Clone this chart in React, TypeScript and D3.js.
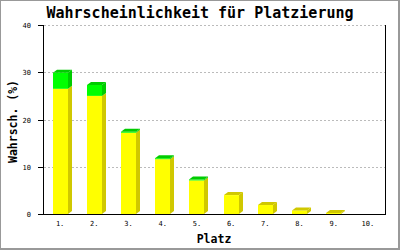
import React from "react";
import * as d3 from "d3";

const categories = ["1.", "2.", "3.", "4.", "5.", "6.", "7.", "8.", "9.", "10."];
const yellowValues = [26.5, 25.0, 17.2, 11.6, 7.1, 4.0, 1.9, 0.75, 0.2, 0];
const greenValues = [3.4, 2.3, 0.2, 0.2, 0.2, 0, 0, 0, 0, 0];
const yTicks = [0, 10, 20, 30, 40];
const title = "Wahrscheinlichkeit für Platzierung";
const xTitle = "Platz";
const yTitle = "Wahrsch. (%)";

const W = 400, H = 250;
const left = 43, right = 385, top = 25, bottom = 214;
const DX = 4, DY = 3;
const mono = "'DejaVu Sans Mono', monospace";

const series = [
  { values: yellowValues, front: "#ffff00", dark: "#d0c800" },
  { values: greenValues, front: "#00ff00", dark: "#00cc00" },
];

export default function App() {
  const x = d3.scaleBand<string>().domain(categories).range([left, right]).padding(0);
  const y = d3.scaleLinear().domain([0, 40]).range([bottom, top]);
  const bw = x.bandwidth();
  const barW = 15;

  const bars: React.ReactNode[] = [];
  categories.forEach((c, i) => {
    const bx = Math.round((x(c) as number) + (bw - barW) / 2);
    let base = 0;
    let topSeg: { y0: number; dark: string } | null = null;
    series.forEach((s, si) => {
      const v = s.values[i];
      if (v <= 0) return;
      const y0 = y(base + v);
      const y1 = y(base);
      base += v;
      bars.push(
        <g key={`${i}-${si}`}>
          <polygon
            points={`${bx + barW},${y1} ${bx + barW + DX},${y1 - DY} ${bx + barW + DX},${y0 - DY} ${bx + barW},${y0}`}
            fill={s.dark}
          />
          <rect x={bx} y={y0} width={barW} height={Math.max(0, y1 - y0)} fill={s.front} />
        </g>
      );
      topSeg = { y0, dark: s.dark };
    });
    if (topSeg) {
      const t = topSeg as { y0: number; dark: string };
      bars.push(
        <polygon
          key={`top-${i}`}
          points={`${bx},${t.y0} ${bx + DX},${t.y0 - DY} ${bx + barW + DX},${t.y0 - DY} ${bx + barW},${t.y0}`}
          fill={t.dark}
        />
      );
    }
  });

  return (
    <svg width={W} height={H} style={{ position: "absolute", left: 0, top: 0, background: "#fff" }}>
      <rect x={0} y={0} width={W} height={H} fill="#fff" />
      {/* gridlines */}
      {yTicks.filter((t) => t > 0).map((t) => (
        <line key={`g${t}`} x1={left + 1} x2={right} y1={Math.round(y(t)) + 0.5} y2={Math.round(y(t)) + 0.5}
          stroke="#bbbbbb" strokeDasharray="2,2" />
      ))}
      {bars}
      {/* axes */}
      <line x1={left + 0.5} x2={left + 0.5} y1={top} y2={bottom + 0.5} stroke="#000" />
      <line x1={right + 0.5} x2={right + 0.5} y1={top} y2={bottom + 0.5} stroke="#000" />
      <line x1={left} x2={right + 1} y1={bottom + 0.5} y2={bottom + 0.5} stroke="#000" />
      {yTicks.map((t) => (
        <g key={`t${t}`}>
          <line x1={38} x2={left} y1={Math.round(y(t)) + 0.5} y2={Math.round(y(t)) + 0.5} stroke="#000" />
          <text x={31} y={Math.round(y(t)) + 3} textAnchor="end" fontFamily={mono} fontSize={7} fill="#000">{t}</text>
        </g>
      ))}
      {categories.map((c) => (
        <text key={`x${c}`} x={(x(c) as number) + bw / 2} y={226} textAnchor="middle" fontFamily={mono} fontSize={7} fill="#000">{c}</text>
      ))}
      <text x={200} y={18} textAnchor="middle" fontFamily={mono} fontWeight="bold" fontSize={15} fill="#000">{title}</text>
      <text x={214} y={243} textAnchor="middle" fontFamily={mono} fontWeight="bold" fontSize={11.5} fill="#000">{xTitle}</text>
      <text transform={`translate(17,121.5) rotate(-90)`} textAnchor="middle" fontFamily={mono} fontWeight="bold" fontSize={11.5} fill="#000">{yTitle}</text>
      {/* frame */}
      <line x1={0.5} x2={0.5} y1={0} y2={H} stroke="#999" />
      <line x1={0} x2={W} y1={0.5} y2={0.5} stroke="#999" />
      <line x1={W - 1} x2={W - 1} y1={0} y2={H} stroke="#999" strokeWidth={2} />
      <line x1={0} x2={W} y1={H - 1} y2={H - 1} stroke="#999" strokeWidth={2} />
    </svg>
  );
}
